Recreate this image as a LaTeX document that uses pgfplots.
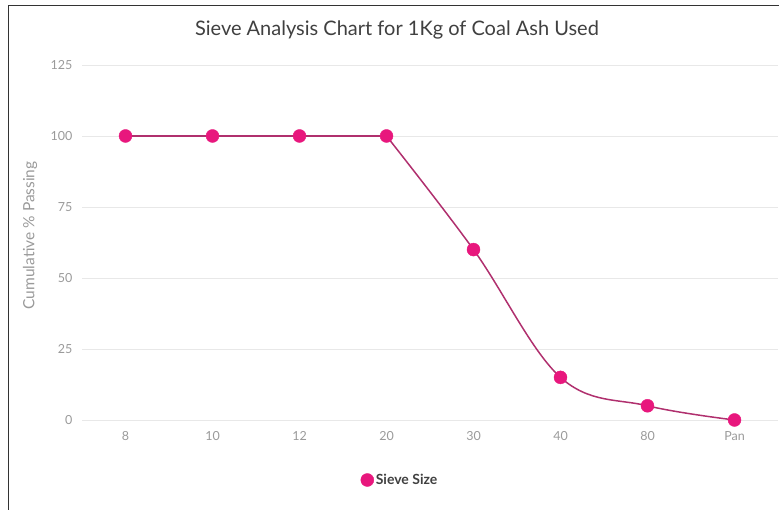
\documentclass[border=0pt]{standalone}
\usepackage{fontspec}
\setmainfont{Lato}
\usepackage{pgfplots}
\pgfplotsset{compat=1.18}
\definecolor{linec}{HTML}{B0306E}
\definecolor{markc}{HTML}{E8177D}
\definecolor{tickc}{HTML}{9A9A9A}
\definecolor{gridc}{HTML}{E8E8E8}
\begin{document}
\begin{tikzpicture}
\useasboundingbox (0,0) rectangle (779pt,510pt);
\draw[line width=1.5pt, black!80] (8.5pt,0) -- (8.5pt,504.5pt) -- (779pt,504.5pt);
\node[text=black!75] at (397pt,480pt) {\fontsize{20}{24}\selectfont Sieve Analysis Chart for 1Kg of Coal Ash Used};
\begin{axis}[
  at={(82pt,90pt)}, anchor=south west,
  scale only axis, width=696pt, height=355pt,
  xmin=-0.5, xmax=7.5, ymin=0, ymax=125,
  xtick={0,...,7}, xticklabels={8,10,12,20,30,40,80,Pan},
  ytick={0,25,50,75,100,125},
  axis line style={draw=none}, major tick length=0pt,
  ymajorgrids, grid style={gridc, line width=0.9pt},
  /pgf/number format/assume math mode=true,
  tick label style={font=\fontsize{12.5}{14}\selectfont, text=tickc},
  yticklabel style={xshift=-6pt},
  xticklabel style={yshift=-8pt},
  ylabel={Cumulative \% Passing},
  ylabel style={at={(axis description cs:-0.0747,0.52)}, anchor=center, font=\fontsize{15.5}{18}\selectfont, text=tickc},
  legend style={at={(rel axis cs:0.457,-0.169)}, anchor=center, draw=none, fill=none, font=\fontsize{14}{16}\selectfont\bfseries, text=black!75},
  legend cell align=left,
  clip=false,
]
\addplot[linec, line width=1.5pt, forget plot] coordinates {(0,100) (1,100) (2,100) (3,100)};
\addplot[linec, line width=1.5pt, smooth, tension=0.6, forget plot] coordinates {(3,100) (4,60) (5,15) (6,5) (7,0)};
\addplot[only marks, mark=*, mark size=6.5pt, mark options={fill=markc, draw=markc}] coordinates {(0,100) (1,100) (2,100) (3,100) (4,60) (5,15) (6,5) (7,0)};
\addlegendentry{Sieve Size}
\end{axis}
\end{tikzpicture}
\end{document}
